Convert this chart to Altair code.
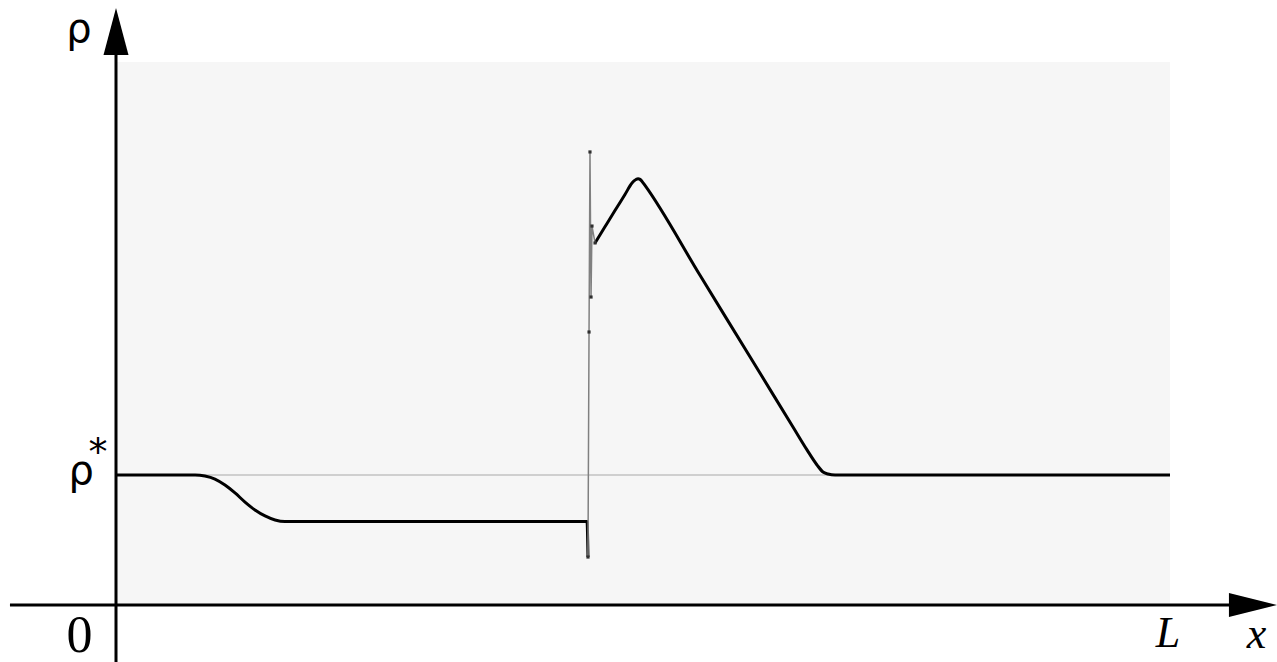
import altair as alt
import pandas as pd

# Density profile rho(x) on [0, L], in units of L and rho*.
x_left = [0.0, 0.075, 0.0844, 0.0939, 0.1034, 0.1129, 0.1224, 0.1319, 0.1414,
          0.1509, 0.1603, 0.4469, 0.4478]
rho_left = [1.0, 1.0, 0.992, 0.969, 0.923, 0.862, 0.792, 0.731, 0.685,
            0.654, 0.642, 0.642, 0.369]

# Numerical oscillation across the shock
x_osc = [0.4478, 0.4488, 0.4497, 0.4507, 0.4516, 0.4545]
rho_osc = [0.369, 2.10, 3.485, 2.369, 2.915, 2.785]

x_right = [0.4545, 0.4639, 0.4734, 0.4829, 0.4896, 0.4915, 0.4934, 0.4953,
           0.4972, 0.4991, 0.5019, 0.5541, 0.6015, 0.6423, 0.6556, 0.6651,
           0.6708, 0.6755, 0.6822, 1.0]
rho_right = [2.785, 2.909, 3.034, 3.158, 3.246, 3.262, 3.273, 3.279,
             3.274, 3.258, 3.227, 2.536, 1.909, 1.369, 1.193, 1.077,
             1.023, 1.008, 1.0, 1.0]

rho_star = 1.0
y_top = 543 / 130

xs = alt.Scale(domain=[0, 1], nice=False, zero=False)
ys = alt.Scale(domain=[0, y_top], nice=False, zero=False)

curve = pd.DataFrame({
    "x": x_left + x_right,
    "rho": rho_left + rho_right,
    "seg": ["a"] * len(x_left) + ["b"] * len(x_right),
    "i": list(range(len(x_left) + len(x_right))),
})
osc = pd.DataFrame({"x": x_osc, "rho": rho_osc, "i": list(range(len(x_osc)))})

ref = alt.Chart(pd.DataFrame({"x": [0.0], "x2": [1.0], "y": [rho_star]})).mark_rule(
    color="#a8a8a8", strokeWidth=1
).encode(x=alt.X("x:Q", scale=xs, axis=None), x2="x2:Q",
         y=alt.Y("y:Q", scale=ys, axis=None))

main = alt.Chart(curve).mark_line(color="black", strokeWidth=3, strokeJoin="round",
                                  interpolate="monotone").encode(
    x=alt.X("x:Q", scale=xs, axis=None),
    y=alt.Y("rho:Q", scale=ys, axis=None),
    detail="seg:N",
    order="i:Q",
)

osc_line = alt.Chart(osc).mark_line(color="#808080", strokeWidth=1.5).encode(
    x=alt.X("x:Q", scale=xs, axis=None),
    y=alt.Y("rho:Q", scale=ys, axis=None),
    order="i:Q",
)
osc_pts = alt.Chart(osc).mark_point(shape="square", filled=True, size=10,
                                    color="#303030", opacity=1).encode(
    x=alt.X("x:Q", scale=xs, axis=None),
    y=alt.Y("rho:Q", scale=ys, axis=None),
)

# Coordinate axes drawn as thick rules
h_axis = alt.Chart(pd.DataFrame({"x": [-0.1006], "x2": [1.06], "y": [0.0]})).mark_rule(
    color="black", strokeWidth=3
).encode(x=alt.X("x:Q", scale=xs, axis=None), x2="x2:Q",
         y=alt.Y("y:Q", scale=ys, axis=None))
v_axis = alt.Chart(pd.DataFrame({"x": [0.0], "y": [-0.44], "y2": [4.3]})).mark_rule(
    color="black", strokeWidth=3
).encode(x=alt.X("x:Q", scale=xs, axis=None),
         y=alt.Y("y:Q", scale=ys, axis=None), y2="y2:Q")

up_arrow = alt.Chart(pd.DataFrame({"x": [0.0], "y": [4.412]})).mark_point(
    shape="M0,-1L0.532,1L-0.532,1Z", size=2209, filled=True, color="black", opacity=1
).encode(x=alt.X("x:Q", scale=xs, axis=None), y=alt.Y("y:Q", scale=ys, axis=None))
right_arrow = alt.Chart(pd.DataFrame({"x": [1.0787], "y": [0.0]})).mark_point(
    shape="M1,0L-1,0.5L-1,-0.5Z", size=2304, filled=True, color="black", opacity=1
).encode(x=alt.X("x:Q", scale=xs, axis=None), y=alt.Y("y:Q", scale=ys, axis=None))


def label(text, x, y, font, size, style="normal"):
    return alt.Chart(pd.DataFrame({"x": [x], "y": [y], "t": [text]})).mark_text(
        font=font, fontSize=size, fontStyle=style, color="black",
        align="center", baseline="alphabetic"
    ).encode(x=alt.X("x:Q", scale=xs, axis=None),
             y=alt.Y("y:Q", scale=ys, axis=None), text="t:N")


labels = [
    label("ρ", -0.0351, 4.331, "DejaVu Sans", 40),
    label("ρ", -0.0330, 0.931, "DejaVu Sans", 40),
    label("*", -0.0170, 1.075, "DejaVu Sans", 38),
    label("0", -0.0347, -0.3615, "Liberation Serif", 52),
    label("L", 0.998, -0.323, "Liberation Serif", 44, "italic"),
    label("x", 1.082, -0.331, "Liberation Serif", 44, "italic"),
]

chart = alt.layer(
    ref, main, osc_line, osc_pts, h_axis, v_axis, up_arrow, right_arrow, *labels
).properties(
    width=1054, height=543,
    padding={"left": 116, "top": 62, "right": 107, "bottom": 57},
    autosize=alt.AutoSizeParams(type="none"),
    background="white",
).configure_view(fill="#f6f6f6", stroke=None)

chart.save("out.html", embed_options={"renderer": "svg", "actions": False})
